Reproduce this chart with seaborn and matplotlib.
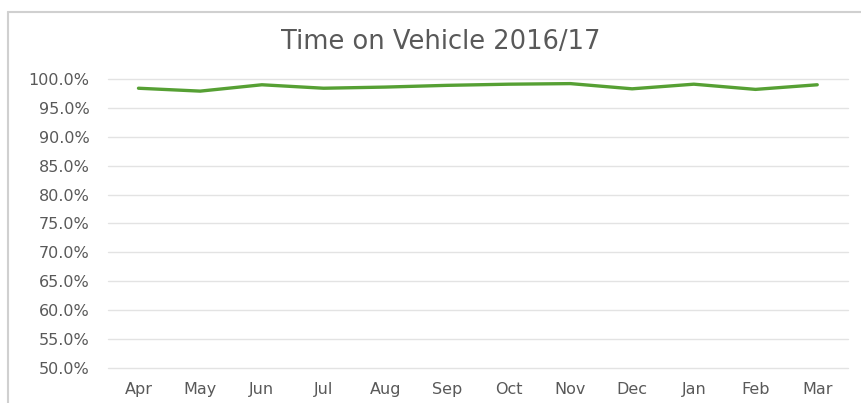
import pandas as pd
import matplotlib.pyplot as plt
import matplotlib.ticker as mticker
import seaborn as sns

months = ['Apr', 'May', 'Jun', 'Jul', 'Aug', 'Sep', 'Oct', 'Nov', 'Dec', 'Jan', 'Feb', 'Mar']
time_on_vehicle = [98.4, 97.9, 99.0, 98.4, 98.6, 98.9, 99.1, 99.2, 98.3, 99.1, 98.2, 99.0]
y_ticks = [50, 55, 60, 65, 70, 75, 80, 85, 90, 95, 100]

df = pd.DataFrame({'month': months, 'value': time_on_vehicle})

sns.set_style('white')
plt.rcParams['font.family'] = ['DejaVu Sans']

fig = plt.figure(figsize=(8.61, 4.03), dpi=100)
ax = fig.add_axes([0.125, 0.087, 0.86, 0.717])

sns.lineplot(data=df, x='month', y='value', sort=False, color='#56a034', linewidth=2.4, ax=ax)

ax.set_ylim(50, 100)
ax.set_xlim(-0.5, len(months) - 0.5)
ax.set_yticks(y_ticks)
ax.yaxis.set_major_formatter(mticker.FuncFormatter(lambda v, p: f'{v:.1f}%'))
ax.grid(axis='y', color='#e3e3e3', linewidth=1)
for gl in ax.get_ygridlines():
    gl.set_clip_on(False)
ax.set_axisbelow(True)
for s in ax.spines.values():
    s.set_visible(False)
ax.tick_params(axis='both', length=0, labelsize=11.5, colors='#595959')
ax.tick_params(axis='x', pad=10)
ax.tick_params(axis='y', pad=13)
ax.set_xlabel('')
ax.set_ylabel('')

fig.text(0.512, 0.895, 'Time on Vehicle 2016/17', ha='center', va='center', fontsize=18.5, color='#595959')

# outer chart frame (left and top edges visible)
fig.add_artist(plt.Line2D([0.009, 0.009], [0.0, 0.97], color='#d0d0d0', linewidth=1.5, transform=fig.transFigure))
fig.add_artist(plt.Line2D([0.009, 1.0], [0.97, 0.97], color='#d0d0d0', linewidth=1.5, transform=fig.transFigure))

plt.savefig('out.png', dpi=100)
plt.close()
